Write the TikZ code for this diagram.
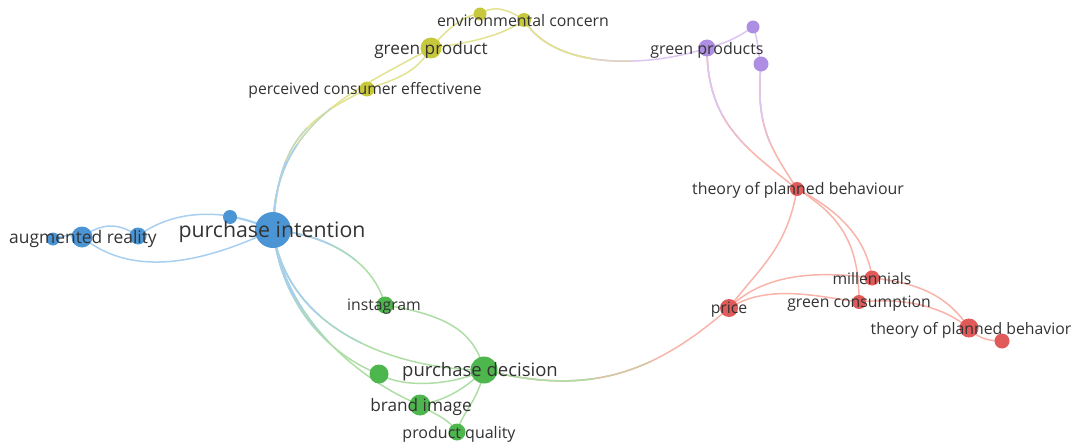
\documentclass[tikz,border=0pt]{standalone}
\usepackage{fontspec}
\setmainfont{Open Sans}
\definecolor{nblue}{HTML}{4B95D5}
\definecolor{nyel}{HTML}{C8C83C}
\definecolor{npur}{HTML}{AD8EE2}
\definecolor{nred}{HTML}{E05A5A}
\definecolor{ngrn}{HTML}{4DB64D}
\definecolor{eblue}{HTML}{A8CFF0}
\definecolor{eyel}{HTML}{E2E290}
\definecolor{epur}{HTML}{DCC6F2}
\definecolor{ered}{HTML}{F8B4AA}
\definecolor{egrn}{HTML}{AEDEA6}
\definecolor{txt}{HTML}{333333}
\pgfdeclarelayer{bg}
\pgfsetlayers{bg,main}
\begin{document}
\begin{tikzpicture}[x=1pt,y=-1pt,
  dot/.style={circle,inner sep=0pt,draw=none,minimum size=#1},
  bdot/.style={dot=#1,fill=nblue},
  ydot/.style={dot=#1,fill=nyel},
  pdot/.style={dot=#1,fill=npur},
  rdot/.style={dot=#1,fill=nred},
  gdot/.style={dot=#1,fill=ngrn},
  lbl/.style={text=txt,inner sep=0pt,yshift=-2pt,font=\fontsize{#1}{#1}\selectfont},
  edge/.style={line width=1.5pt,draw=#1},
  grad/.style n args={4}{line width=1.5pt,draw=#2,
     postaction={draw=#1!50!#2,dash pattern=on #4 off 3000pt},
     postaction={draw=#1,dash pattern=on #3 off 3000pt}}
]
\useasboundingbox (0,0) rectangle (1075,444);

% nodes
\node[bdot=36] (pi) at (273,230) {};
\node[bdot=14] (b1) at (230,217) {};
\node[bdot=17] (b2) at (138,236) {};
\node[bdot=21] (b3) at (82,237) {};
\node[bdot=13] (b4) at (53,239) {};
\node[ydot=21] (gp) at (431,48) {};
\node[ydot=14] (ec) at (524,20) {};
\node[ydot=13] (y1) at (480,14) {};
\node[ydot=15] (pce) at (367,89) {};
\node[pdot=17] (gps) at (707,48) {};
\node[pdot=13] (p1) at (753,27) {};
\node[pdot=15] (p2) at (761,64) {};
\node[rdot=14] (tpb) at (797,189) {};
\node[rdot=15] (mil) at (872,278) {};
\node[rdot=14] (gc) at (859,302) {};
\node[rdot=18] (price) at (729,308) {};
\node[rdot=19] (tpb2) at (969,328) {};
\node[rdot=15] (r1) at (1002,341) {};
\node[gdot=27] (pd) at (484,370) {};
\node[gdot=17] (ig) at (385,305) {};
\node[gdot=19] (g1) at (379,374) {};
\node[gdot=21] (bi) at (420,405) {};
\node[gdot=17] (pq) at (457,432) {};

\begin{pgfonlayer}{bg}
% blue
\draw[edge=eblue] (b4.center) .. controls +(10,-4) and +(-10,-2) .. (b3.center);
\draw[edge=eblue] (b3.center) .. controls +(20,-14) and +(-20,-14) .. (b2.center);
\draw[edge=eblue] (b2.center) .. controls +(40,-30) and +(-40,-20) .. (pi.center);
\draw[edge=eblue] (b1.center) .. controls +(15,2) and +(-15,-6) .. (pi.center);
\draw[edge=eblue] (b3.center) .. controls +(55,45) and +(-60,28) .. (pi.center);
% blue - yellow
\draw[grad={eblue}{eyel}{70pt}{110pt}] (pi.center) .. controls +(5,-90) and +(-60,30) .. (pce.center);
\draw[grad={eblue}{eyel}{90pt}{140pt}] (pi.center) .. controls +(0,-110) and +(-70,40) .. (gp.center);
% yellow
\draw[edge=eyel] (pce.center) .. controls +(30,-10) and +(-15,25) .. (gp.center);
\draw[edge=eyel] (gp.center) .. controls +(15,-18) and +(-15,0) .. (y1.center);
\draw[edge=eyel] (gp.center) .. controls +(40,-5) and +(-20,15) .. (ec.center);
\draw[edge=eyel] (y1.center) .. controls +(15,-10) and +(-15,-10) .. (ec.center);
\draw[grad={eyel}{epur}{80pt}{120pt}] (ec.center) .. controls +(30,50) and +(-60,20) .. (gps.center);
% purple
\draw[edge=epur] (gps.center) .. controls +(20,-5) and +(-15,10) .. (p1.center);
\draw[edge=epur] (p1.center) .. controls +(6,15) and +(-4,-15) .. (p2.center);
\draw[grad={epur}{ered}{70pt}{110pt}] (gps.center) .. controls +(0,75) and +(-50,-40) .. (tpb.center);
\draw[grad={epur}{ered}{55pt}{85pt}] (p2.center) .. controls +(-6,65) and +(-25,-40) .. (tpb.center);
% red
\draw[edge=ered] (tpb.center) .. controls +(-10,60) and +(30,-40) .. (price.center);
\draw[edge=ered] (tpb.center) .. controls +(40,20) and +(-5,-40) .. (mil.center);
\draw[edge=ered] (tpb.center) .. controls +(50,30) and +(0,-50) .. (gc.center);
\draw[edge=ered] (price.center) .. controls +(40,-40) and +(-40,-5) .. (mil.center);
\draw[edge=ered] (price.center) .. controls +(40,-25) and +(-40,-5) .. (gc.center);
\draw[edge=ered] (mil.center) .. controls +(50,5) and +(-20,-30) .. (tpb2.center);
\draw[edge=ered] (gc.center) .. controls +(50,-5) and +(-25,-20) .. (tpb2.center);
\draw[edge=ered] (tpb2.center) .. controls +(10,12) and +(-10,0) .. (r1.center);
% blue - green
\draw[grad={eblue}{egrn}{60pt}{90pt}] (pi.center) .. controls +(60,5) and +(-10,-40) .. (ig.center);
\draw[grad={eblue}{egrn}{70pt}{110pt}] (pi.center) .. controls +(10,85) and +(-40,-15) .. (g1.center);
\draw[grad={eblue}{egrn}{100pt}{150pt}] (pi.center) .. controls +(15,105) and +(-80,0) .. (pd.center);
\draw[grad={eblue}{egrn}{85pt}{125pt}] (pi.center) .. controls +(12,95) and +(-50,-20) .. (bi.center);
% green
\draw[edge=egrn] (ig.center) .. controls +(60,10) and +(-10,-40) .. (pd.center);
\draw[edge=egrn] (g1.center) .. controls +(25,15) and +(-30,15) .. (pd.center);
\draw[edge=egrn] (bi.center) .. controls +(25,-5) and +(-20,20) .. (pd.center);
\draw[edge=egrn] (bi.center) .. controls +(15,10) and +(-10,-15) .. (pq.center);
\draw[edge=egrn] (pd.center) .. controls +(-5,30) and +(5,-20) .. (pq.center);
% green - red
\draw[grad={egrn}{ered}{110pt}{170pt}] (pd.center) .. controls +(100,25) and +(-80,70) .. (price.center);
\end{pgfonlayer}

% labels
\node[lbl=21.3] (pi-l) at (272,230) {purchase intention};
\node[lbl=17.4] (b3-l) at (83,237) {augmented reality};
\node[lbl=17.2] (gp-l) at (431,48) {green product};
\node[lbl=15.9] (ec-l) at (523,19) {environmental concern};
\node[lbl=15.7] (pce-l) at (365,88) {perceived consumer effectivene};
\node[lbl=16] (gps-l) at (707,48) {green products};
\node[lbl=15.9] (tpb-l) at (798,188) {theory of planned behaviour};
\node[lbl=15.7] (mil-l) at (872,277) {millennials};
\node[lbl=15.8] (gc-l) at (859,302) {green consumption};
\node[lbl=15.8] (price-l) at (729,308) {price};
\node[lbl=15.8] (tpb2-l) at (971,328) {theory of planned behavior};
\node[lbl=18.5] (pd-l) at (480,370) {purchase decision};
\node[lbl=15.8] (ig-l) at (384,305) {instagram};
\node[lbl=17.2] (bi-l) at (421,405) {brand image};
\node[lbl=16] (pq-l) at (459,432) {product quality};
\end{tikzpicture}
\end{document}
